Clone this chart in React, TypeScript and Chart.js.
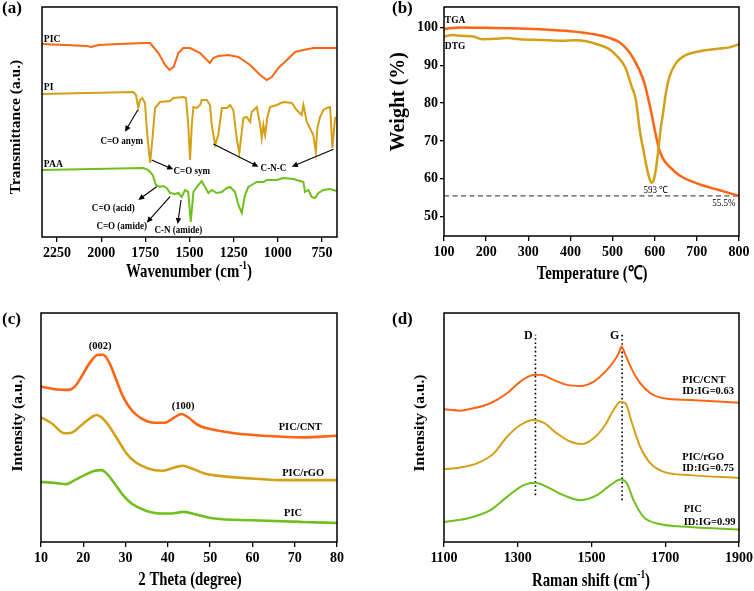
import React, { useEffect, useRef } from 'react';
import { Chart, registerables } from 'chart.js';

Chart.register(...registerables);

const SERIF = '"Liberation Serif", "Times New Roman", Times, serif';
const ORANGE = '#FF6514';
const GOLD = '#D4A017';
const GREEN = '#6FBF1F';

// ---------- (a) FTIR ----------
const ftirTicks = [2250, 2000, 1750, 1500, 1250, 1000, 750];
const picWn = [2335, 2200, 2082, 2057, 2016, 1900, 1752, 1723, 1676, 1638, 1614, 1590, 1563, 1535, 1497, 1440, 1402, 1384, 1365, 1337, 1280, 1223, 1157, 1100, 1063, 1034, 997, 949, 902, 855, 799, 742, 666];
const picT = [193, 192, 191, 190, 192, 193, 194, 194, 184, 172, 167, 170, 184, 189, 189, 184, 177, 174, 179, 181, 182, 180, 172, 162, 157, 160, 169, 177, 185, 187, 189, 189, 189];
const piWn = [2335, 1818, 1803, 1790, 1780, 1767, 1752, 1739, 1723, 1708, 1695, 1667, 1610, 1591, 1535, 1520, 1507, 1497, 1487, 1478, 1459, 1440, 1431, 1402, 1384, 1374, 1355, 1337, 1317, 1289, 1270, 1252, 1233, 1218, 1195, 1176, 1157, 1148, 1119, 1100, 1091, 1082, 1072, 1059, 1044, 1006, 969, 921, 893, 865, 855, 836, 799, 785, 776, 761, 742, 723, 704, 691, 676, 667];
const piT = [143, 145, 142, 129, 137, 139, 134, 102, 74, 102, 129, 135, 136, 139, 140, 139, 112, 77, 112, 130, 129, 132, 137, 137, 132, 112, 92, 102, 129, 129, 132, 127, 99, 84, 119, 120, 115, 125, 130, 112, 99, 112, 102, 120, 130, 132, 135, 134, 127, 122, 132, 115, 102, 85, 109, 120, 127, 129, 130, 89, 119, 120];
const paaWn = [2335, 1761, 1733, 1708, 1690, 1667, 1648, 1629, 1610, 1582, 1563, 1544, 1525, 1507, 1493, 1478, 1459, 1431, 1412, 1393, 1374, 1346, 1317, 1289, 1270, 1242, 1223, 1204, 1186, 1167, 1148, 1119, 1082, 1063, 1006, 969, 912, 874, 855, 846, 827, 808, 789, 770, 742, 704, 667];
const paaT = [67, 69, 67, 62, 52, 50, 51, 49, 44, 43, 44, 40, 47, 45, 15, 45, 50, 56, 50, 44, 47, 44, 45, 49, 50, 45, 32, 24, 42, 50, 52, 55, 55, 57, 57, 59, 58, 56, 55, 45, 47, 40, 39, 44, 47, 48, 46];

// ---------- (b) TGA ----------
const tempTicks = [100, 200, 300, 400, 500, 600, 700, 800];
const weightTicks = [50, 60, 70, 80, 90, 100];
const tgaTemp = [100, 140, 200, 260, 330, 400, 450, 490, 520, 550, 575, 590, 600, 610, 620, 635, 660, 700, 750, 800];
const tgaWeight = [99.6, 100.0, 99.9, 99.8, 99.5, 99.0, 98.3, 97.3, 95.8, 91.7, 85.5, 78.5, 73, 68, 65.3, 63.2, 60.8, 58.8, 57.1, 55.5];
const dtgTemp = [100, 120, 140, 170, 190, 220, 250, 280, 330, 380, 410, 440, 465, 490, 510, 530, 545, 555, 565, 575, 583, 590, 593, 597, 602, 608, 614, 620, 627, 635, 650, 670, 690, 710, 730, 760, 780, 800];
const dtgWeight = [97.6, 98.0, 97.8, 97.6, 96.9, 97.0, 97.2, 96.9, 96.7, 96.5, 96.6, 96.3, 95.5, 94.4, 92.5, 89.5, 84.5, 81, 72.5, 66.5, 62, 59.3, 59.0, 59.5, 62, 67, 73, 77.5, 83, 87, 90.5, 92.5, 93.3, 93.8, 94.1, 94.5, 94.8, 95.6];
const residualWeight = 55.5;
const residualSpan = [100, 800];

// ---------- (c) XRD ----------
const thetaTicks = [10, 20, 30, 40, 50, 60, 70, 80];
const xrdCntTheta = [10, 13.2, 16.4, 18, 19.6, 21.5, 23.5, 24.7, 26.2, 27.8, 29.4, 31.4, 33.7, 36.9, 39.3, 41.6, 43.2, 44.8, 47.1, 50.3, 55.8, 63.7, 71.6, 80];
const xrdCntI = [155, 152.4, 151.7, 155, 165, 178.4, 186.7, 186.7, 178.4, 161.7, 145, 131.7, 123.4, 119, 119, 124.4, 127.7, 124.4, 116.7, 112.4, 108.4, 105.7, 104.4, 106];
const xrdRgoTheta = [10, 12.5, 15.6, 17.2, 19.6, 21.9, 23.1, 24.3, 26.2, 28.2, 30.2, 32.2, 35.3, 38.5, 41.6, 43.6, 45.6, 48.7, 52.7, 59.8, 67.6, 80];
const xrdRgoI = [124.4, 118.4, 108.4, 109, 116.7, 124.4, 126.7, 124.4, 115, 101.7, 88.4, 80, 73.4, 71, 74.4, 76, 73.4, 68.4, 65.7, 63.4, 61.7, 61.7];
const xrdPicTheta = [10, 13.2, 16, 18, 20.3, 22.7, 24.3, 25.5, 27.4, 29.4, 31.4, 34.5, 38.5, 40.8, 43.6, 46.4, 51.1, 59.8, 71.6, 80];
const xrdPicI = [60, 59, 57.7, 61.7, 66.7, 71, 71.7, 68.4, 58.4, 46.7, 38.4, 31.7, 28.4, 28.4, 30, 27.7, 23.4, 21.7, 20, 19];

// ---------- (d) Raman ----------
const ramanTicks = [1100, 1300, 1500, 1700, 1900];
const ramCntShift = [1100, 1144, 1180, 1226, 1271, 1307, 1334, 1361, 1397, 1434, 1470, 1506, 1542, 1560, 1574, 1581, 1592, 1610, 1632, 1660, 1696, 1768, 1900];
const ramCntI = [132.4, 131, 133.4, 138.4, 148.4, 160, 165.7, 166.7, 161.7, 156.7, 155.7, 160, 171.7, 180, 188.4, 195, 186.7, 171.7, 158.4, 148.4, 143.4, 141.7, 139];
const ramRgoShift = [1100, 1144, 1189, 1235, 1271, 1307, 1343, 1370, 1406, 1443, 1474, 1506, 1537, 1560, 1578, 1592, 1610, 1632, 1660, 1696, 1768, 1900];
const ramRgoI = [72.4, 74.4, 78.4, 88.4, 105, 116.7, 121.7, 119, 108.4, 100, 97.7, 103.4, 116.7, 131.7, 140, 138.4, 118.4, 95, 78.4, 70, 66.7, 64];
const ramPicShift = [1100, 1162, 1226, 1271, 1316, 1348, 1379, 1424, 1470, 1515, 1551, 1578, 1596, 1614, 1641, 1678, 1768, 1900];
const ramPicI = [20, 23.4, 31.7, 45, 56.7, 59, 55, 46.7, 41.7, 46.7, 56.7, 62.4, 58.4, 41.7, 25, 18.4, 15, 12.4];
const dBand = 1348;
const gBand = 1583;
const dBandSpan = [46.7, 206.7];
const gBandSpan = [41.7, 206.7];

// ---------- helpers ----------
function pts(xs: number[], ys: number[]) {
  return xs.map((x, i) => ({ x, y: ys[i] }));
}
function series(xs: number[], ys: number[], color: string, width: number, extra: any = {}) {
  return { data: pts(xs, ys), borderColor: color, borderWidth: width, pointRadius: 0, fill: false, tension: 0, ...extra };
}

type Label = { text: string; x: number; y: number; size: number; bold?: boolean; align?: 'left' | 'center' | 'right'; sx?: number; rot?: number; px?: boolean };
type PanelSpec = {
  left: number; top: number; W: number; H: number;
  area: { L: number; T: number; R: number; B: number };
  x: { min: number; max: number; reverse?: boolean; ticks: number[] };
  y: { min: number; max: number; ticks?: number[] };
  datasets: any[];
  labels: Label[];
  arrows?: number[][];
};

function drawLabel(ctx: CanvasRenderingContext2D, chart: any, l: Label) {
  const x = l.px ? l.x : chart.scales.x.getPixelForValue(l.x);
  const y = l.px ? l.y : chart.scales.y.getPixelForValue(l.y);
  const weight = l.bold === false ? 'normal' : 'bold';
  const fBase = `${weight} ${l.size}px ${SERIF}`;
  const fSup = `${weight} ${Math.round(l.size * 0.62)}px ${SERIF}`;
  const parts = l.text.split(/(\^\{[^}]*\})/).filter((s) => s.length);
  let total = 0;
  const items = parts.map((p) => {
    const sup = p.startsWith('^{');
    const t = sup ? p.slice(2, -1) : p;
    ctx.font = sup ? fSup : fBase;
    const w = ctx.measureText(t).width;
    total += w;
    return { t, sup, w };
  });
  ctx.save();
  ctx.translate(x, y);
  if (l.rot) ctx.rotate(l.rot);
  ctx.scale(l.sx ?? 1, 1);
  let cx = l.align === 'left' ? 0 : l.align === 'right' ? -total : -total / 2;
  ctx.fillStyle = '#000';
  ctx.textBaseline = 'middle';
  ctx.textAlign = 'left';
  for (const it of items) {
    ctx.font = it.sup ? fSup : fBase;
    ctx.fillText(it.t, cx, it.sup ? -l.size * 0.32 : 0);
    cx += it.w;
  }
  ctx.restore();
}

function overlayPlugin(labels: Label[], arrows: number[][]) {
  return {
    id: 'overlay',
    afterDraw(chart: any) {
      const ctx: CanvasRenderingContext2D = chart.ctx;
      const a = chart.chartArea;
      ctx.save();
      ctx.strokeStyle = '#000';
      ctx.lineWidth = 1.5;
      ctx.strokeRect(a.left, a.top, a.right - a.left, a.bottom - a.top);
      const xs = chart.scales.x;
      const ys = chart.scales.y;
      ctx.fillStyle = '#000';
      ctx.lineWidth = 1.1;
      for (const ar of arrows) {
        const x1 = xs.getPixelForValue(ar[0]);
        const y1 = ys.getPixelForValue(ar[1]);
        const x2 = xs.getPixelForValue(ar[2]);
        const y2 = ys.getPixelForValue(ar[3]);
        const ang = Math.atan2(y2 - y1, x2 - x1);
        const hl = 6;
        const hw = 2.8;
        const c = Math.cos(ang);
        const s = Math.sin(ang);
        ctx.beginPath();
        ctx.moveTo(x1, y1);
        ctx.lineTo(x2 - c * hl * 0.7, y2 - s * hl * 0.7);
        ctx.stroke();
        ctx.beginPath();
        ctx.moveTo(x2, y2);
        ctx.lineTo(x2 - hl * c + hw * s, y2 - hl * s - hw * c);
        ctx.lineTo(x2 - hl * c - hw * s, y2 - hl * s + hw * c);
        ctx.closePath();
        ctx.fill();
      }
      ctx.restore();
      for (const l of labels) drawLabel(ctx, chart, l);
    },
  };
}

function zeroPad(s: any) {
  s.paddingLeft = 0;
  s.paddingRight = 0;
  s.paddingTop = 0;
  s.paddingBottom = 0;
}

const tickFont = { family: SERIF, size: 14, weight: 'bold' as const };

function Panel({ spec }: { spec: PanelSpec }) {
  const ref = useRef<HTMLCanvasElement>(null);
  useEffect(() => {
    const canvas = ref.current;
    if (!canvas) return;
    const { W, H, area } = spec;
    const hasY = !!spec.y.ticks;
    const yScale: any = hasY
      ? {
          type: 'linear',
          min: spec.y.min,
          max: spec.y.max,
          afterBuildTicks: (s: any) => {
            s.ticks = (spec.y.ticks as number[]).map((v) => ({ value: v }));
          },
          afterFit: (s: any) => {
            s.width = area.L;
            zeroPad(s);
          },
          grid: { drawOnChartArea: false, drawTicks: true, tickLength: 4, color: '#000', lineWidth: 1.3 },
          border: { display: false },
          ticks: { color: '#000', padding: 2, autoSkip: false, font: tickFont, callback: (v: any) => String(v) },
        }
      : { type: 'linear', display: false, min: spec.y.min, max: spec.y.max };
    const chart = new Chart(canvas, {
      type: 'line',
      data: { datasets: spec.datasets },
      options: {
        responsive: false,
        maintainAspectRatio: false,
        animation: false,
        devicePixelRatio: 1,
        layout: { padding: { left: hasY ? 0 : area.L, top: area.T, right: W - area.R, bottom: 0 } },
        plugins: { legend: { display: false }, tooltip: { enabled: false } },
        scales: {
          x: {
            type: 'linear',
            min: spec.x.min,
            max: spec.x.max,
            reverse: !!spec.x.reverse,
            afterBuildTicks: (s: any) => {
              s.ticks = spec.x.ticks.map((v) => ({ value: v }));
            },
            afterFit: (s: any) => {
              s.height = H - area.B;
              zeroPad(s);
            },
            grid: { drawOnChartArea: false, drawTicks: true, tickLength: 5, color: '#000', lineWidth: 1.3 },
            border: { display: false },
            ticks: { color: '#000', padding: 3, autoSkip: false, maxRotation: 0, minRotation: 0, font: tickFont, callback: (v: any) => String(v) },
          },
          y: yScale,
        },
      } as any,
      plugins: [overlayPlugin(spec.labels, spec.arrows || [])],
    });
    return () => chart.destroy();
  }, [spec]);
  return (
    <canvas
      ref={ref}
      width={spec.W}
      height={spec.H}
      style={{ position: 'absolute', left: spec.left, top: spec.top, width: spec.W, height: spec.H, display: 'block' }}
    />
  );
}

const ann = 10.5;
const UP = -Math.PI / 2;

const panelA: PanelSpec = {
  left: 0, top: 0, W: 377, H: 295,
  area: { L: 42, T: 7, R: 337, B: 237 },
  x: { min: 665, max: 2335, reverse: true, ticks: ftirTicks },
  y: { min: 0, max: 230 },
  datasets: [
    series(picWn, picT, ORANGE, 2),
    series(piWn, piT, GOLD, 2),
    series(paaWn, paaT, GREEN, 2),
  ],
  labels: [
    { text: '(a)', x: 2, y: 9, size: 17, align: 'left', px: true },
    { text: 'Transmittance (a.u.)', x: 16, y: 127, size: 15.5, rot: UP, px: true },
    { text: 'Wavenumber (cm^{-1})', x: 189, y: 272, size: 19, sx: 0.78, px: true },
    { text: 'PIC', x: 2325, y: 198, size: ann, align: 'left', sx: 0.92 },
    { text: 'PI', x: 2325, y: 150, size: ann, align: 'left', sx: 0.92 },
    { text: 'PAA', x: 2325, y: 73, size: ann, align: 'left', sx: 0.92 },
    { text: 'C=O anym', x: 1884, y: 95.3, size: ann, sx: 0.86 },
    { text: 'C=O sym', x: 1487, y: 65.3, size: ann, sx: 0.86 },
    { text: 'C-N-C', x: 1025, y: 68.7, size: ann, sx: 0.86 },
    { text: 'C=O (acid)', x: 1931, y: 28.7, size: ann, sx: 0.86 },
    { text: 'C=O (amide)', x: 1884, y: 10.3, size: ann, sx: 0.86 },
    { text: 'C-N (amide)', x: 1563, y: 7, size: ann, sx: 0.86 },
  ],
  arrows: [
    [1793, 127, 1865, 105.3],
    [1714, 77, 1592, 67.7],
    [1365, 93, 1110, 70.3],
    [685, 87.7, 921, 70.3],
    [1686, 50.3, 1790, 37],
    [1610, 40.3, 1742, 14.3],
    [1548, 37, 1567, 13],
  ],
};

const panelB: PanelSpec = {
  left: 377, top: 0, W: 377, H: 295,
  area: { L: 67, T: 7, R: 362, B: 236 },
  x: { min: 100, max: 800, ticks: tempTicks },
  y: { min: 44.9, max: 105.4, ticks: weightTicks },
  datasets: [
    series(dtgTemp, dtgWeight, GOLD, 2.5, { cubicInterpolationMode: 'monotone' }),
    series(tgaTemp, tgaWeight, ORANGE, 2.5, { cubicInterpolationMode: 'monotone' }),
    series(residualSpan, [residualWeight, residualWeight], '#555555', 1.3, { borderDash: [5, 3.5] }),
  ],
  labels: [
    { text: '(b)', x: 15, y: 9, size: 17, align: 'left', px: true },
    { text: 'Weight (%)', x: 21.7, y: 101.7, size: 20, rot: UP, px: true },
    { text: 'Temperature (℃)', x: 215, y: 274, size: 19, sx: 0.78, px: true },
    { text: 'TGA', x: 102, y: 101.9, size: ann, align: 'left', sx: 0.9 },
    { text: 'DTG', x: 102, y: 95.0, size: ann, align: 'left', sx: 0.9 },
    { text: '593 ℃', x: 602.6, y: 57.0, size: 10, bold: false, sx: 0.9 },
    { text: '55.5%', x: 764, y: 53.4, size: 10, bold: false, sx: 0.9 },
  ],
};

const panelC: PanelSpec = {
  left: 0, top: 295, W: 377, H: 296,
  area: { L: 41, T: 18, R: 337, B: 247 },
  x: { min: 10, max: 80, ticks: thetaTicks },
  y: { min: 0, max: 228.4 },
  datasets: [
    series(xrdCntTheta, xrdCntI, ORANGE, 2.6, { cubicInterpolationMode: 'monotone' }),
    series(xrdRgoTheta, xrdRgoI, GOLD, 2.6, { cubicInterpolationMode: 'monotone' }),
    series(xrdPicTheta, xrdPicI, GREEN, 2.6, { cubicInterpolationMode: 'monotone' }),
  ],
  labels: [
    { text: '(c)', x: 2, y: 25, size: 17, align: 'left', px: true },
    { text: 'Intensity (a.u.)', x: 18, y: 128, size: 15.5, rot: UP, px: true },
    { text: '2 Theta (degree)', x: 190, y: 285.5, size: 19, sx: 0.78, px: true },
    { text: '(002)', x: 24, y: 195.7, size: ann },
    { text: '(100)', x: 43.6, y: 135.7, size: ann },
    { text: 'PIC/CNT', x: 71.3, y: 114.4, size: ann },
    { text: 'PIC/rGO', x: 72, y: 69, size: ann },
    { text: 'PIC', x: 69.6, y: 29, size: ann },
  ],
};

const panelD: PanelSpec = {
  left: 377, top: 295, W: 377, H: 296,
  area: { L: 67, T: 18, R: 362, B: 247 },
  x: { min: 1100, max: 1900, ticks: ramanTicks },
  y: { min: 0, max: 228.4 },
  datasets: [
    series(ramCntShift, ramCntI, ORANGE, 2, { cubicInterpolationMode: 'monotone' }),
    series(ramRgoShift, ramRgoI, GOLD, 2, { cubicInterpolationMode: 'monotone' }),
    series(ramPicShift, ramPicI, GREEN, 2, { cubicInterpolationMode: 'monotone' }),
    series([dBand, dBand], dBandSpan, '#000000', 1.6, { borderDash: [1.6, 2.6] }),
    series([gBand, gBand], gBandSpan, '#000000', 1.6, { borderDash: [1.6, 2.6] }),
  ],
  labels: [
    { text: '(d)', x: 15, y: 25, size: 17, align: 'left', px: true },
    { text: 'Intensity (a.u.)', x: 43, y: 128, size: 15.5, rot: UP, px: true },
    { text: 'Raman shift (cm^{-1})', x: 214, y: 286, size: 19, sx: 0.78, px: true },
    { text: 'D', x: 1329, y: 205.7, size: 12 },
    { text: 'G', x: 1563, y: 206, size: 12 },
    { text: 'PIC/CNT', x: 1746, y: 161, size: ann, align: 'left' },
    { text: 'ID:IG=0.63', x: 1746, y: 150, size: ann, align: 'left' },
    { text: 'PIC/rGO', x: 1746, y: 84.5, size: ann, align: 'left' },
    { text: 'ID:IG=0.75', x: 1746, y: 74, size: ann, align: 'left' },
    { text: 'PIC', x: 1750, y: 32.5, size: ann, align: 'left' },
    { text: 'ID:IG=0.99', x: 1750, y: 20, size: ann, align: 'left' },
  ],
};

export default function App() {
  return (
    <div style={{ position: 'absolute', left: 0, top: 0, width: 754, height: 591, background: '#fff', overflow: 'hidden' }}>
      <Panel spec={panelA} />
      <Panel spec={panelB} />
      <Panel spec={panelC} />
      <Panel spec={panelD} />
    </div>
  );
}
